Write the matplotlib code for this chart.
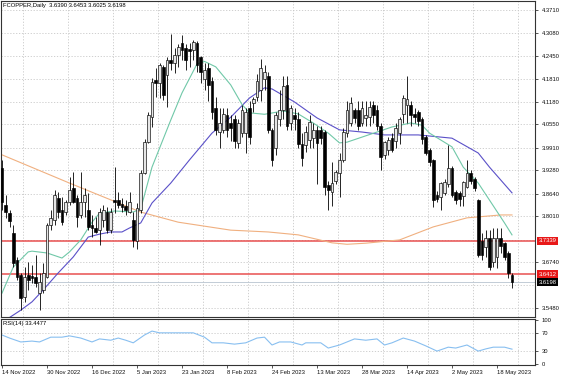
import matplotlib
matplotlib.use('Agg')
import matplotlib.pyplot as plt
from matplotlib.transforms import blended_transform_factory

# ---------------- data ----------------
opens = [3.935, 3.832, 3.810, 3.755, 3.680, 3.639, 3.578, 3.639, 3.637, 3.634,
         3.589, 3.598, 3.634, 3.777, 3.791, 3.852, 3.819, 3.813, 3.841, 3.880,
         3.852, 3.805, 3.841, 3.819, 3.777, 3.769, 3.763, 3.791, 3.813, 3.763,
         3.846, 3.846, 3.835, 3.830, 3.813, 3.791, 3.733, 3.819, 3.921, 4.006,
         4.075, 4.177, 4.169, 4.213, 4.191, 4.232, 4.224, 4.246, 4.279, 4.266,
         4.263, 4.260, 4.280, 4.240, 4.180, 4.210, 4.175, 4.100, 4.035, 4.040,
         4.080, 4.060, 4.070, 4.005, 4.030, 4.030, 4.100, 4.115, 4.130, 4.150,
         4.180, 4.190, 4.040, 3.990, 4.070, 4.095, 4.165, 4.060, 4.080, 4.070,
         4.000, 3.997, 4.012, 4.017, 4.040, 4.040, 4.034, 3.888, 3.868, 3.900,
         3.920, 3.957, 4.030, 4.060, 4.095, 4.095, 4.060, 4.073, 4.075, 4.109,
         4.095, 4.050, 3.970, 3.985, 4.017, 4.010, 4.030, 4.085, 4.110, 4.110,
         4.085, 4.090, 4.070, 4.020, 3.985, 3.957, 3.860, 3.855, 3.865, 3.890,
         3.935, 3.868, 3.865, 3.856, 3.882, 3.920, 3.905, 3.846, 3.733, 3.716,
         3.741, 3.675, 3.690, 3.741, 3.727, 3.700, 3.6390]
highs = [3.957, 3.860, 3.819, 3.777, 3.689, 3.645, 3.661, 3.675, 3.667, 3.694,
         3.645, 3.672, 3.783, 3.819, 3.874, 3.868, 3.855, 3.846, 3.910, 3.924,
         3.860, 3.924, 3.880, 3.866, 3.805, 3.799, 3.824, 3.832, 3.827, 3.824,
         3.937, 3.868, 3.852, 3.846, 3.868, 3.813, 3.838, 3.930, 4.014, 4.090,
         4.183, 4.210, 4.225, 4.219, 4.241, 4.305, 4.266, 4.277, 4.302, 4.277,
         4.279, 4.288, 4.285, 4.245, 4.225, 4.225, 4.185, 4.130, 4.100, 4.100,
         4.100, 4.080, 4.080, 4.070, 4.110, 4.100, 4.120, 4.130, 4.195, 4.235,
         4.220, 4.200, 4.045, 4.090, 4.150, 4.190, 4.190, 4.110, 4.100, 4.090,
         4.030, 4.050, 4.080, 4.060, 4.050, 4.050, 4.040, 3.900, 3.950, 3.930,
         3.975, 4.045, 4.120, 4.130, 4.100, 4.120, 4.120, 4.120, 4.120, 4.120,
         4.110, 4.060, 4.010, 4.020, 4.030, 4.060, 4.075, 4.135, 4.190, 4.120,
         4.100, 4.095, 4.075, 4.025, 3.990, 3.960, 3.870, 3.896, 3.905, 3.997,
         3.940, 3.875, 3.870, 3.900, 3.957, 3.930, 3.910, 3.850, 3.755, 3.763,
         3.763, 3.770, 3.770, 3.770, 3.730, 3.705, 3.6453]
lows = [3.819, 3.796, 3.771, 3.661, 3.625, 3.542, 3.564, 3.598, 3.617, 3.606,
        3.542, 3.589, 3.631, 3.763, 3.777, 3.796, 3.777, 3.805, 3.832, 3.838,
        3.771, 3.796, 3.799, 3.763, 3.744, 3.755, 3.722, 3.771, 3.755, 3.755,
        3.810, 3.824, 3.813, 3.805, 3.810, 3.716, 3.711, 3.810, 3.918, 4.003,
        4.048, 4.130, 4.128, 4.122, 4.103, 4.205, 4.197, 4.213, 4.233, 4.205,
        4.213, 4.233, 4.200, 4.170, 4.150, 4.120, 4.070, 4.025, 3.990, 4.030,
        4.020, 4.010, 3.990, 3.990, 4.020, 3.975, 4.000, 4.090, 4.120, 4.120,
        4.150, 4.030, 3.940, 3.970, 4.050, 4.070, 4.040, 4.040, 4.040, 3.990,
        3.940, 3.980, 3.990, 3.990, 3.890, 4.000, 3.860, 3.820, 3.830, 3.890,
        3.855, 3.950, 4.020, 4.050, 4.060, 4.040, 4.050, 4.050, 4.050, 4.060,
        4.040, 3.930, 3.960, 3.970, 3.980, 3.990, 4.000, 4.060, 4.060, 4.050,
        4.060, 4.050, 4.000, 3.970, 3.940, 3.827, 3.840, 3.820, 3.860, 3.882,
        3.855, 3.835, 3.830, 3.830, 3.880, 3.890, 3.870, 3.688, 3.680, 3.688,
        3.653, 3.660, 3.658, 3.700, 3.680, 3.630, 3.6025]
closes = [3.841, 3.813, 3.788, 3.672, 3.634, 3.575, 3.634, 3.625, 3.631, 3.617,
          3.620, 3.645, 3.777, 3.796, 3.860, 3.813, 3.786, 3.841, 3.874, 3.841,
          3.799, 3.841, 3.860, 3.771, 3.769, 3.758, 3.813, 3.819, 3.763, 3.813,
          3.841, 3.832, 3.827, 3.819, 3.841, 3.736, 3.824, 3.921, 4.006, 4.081,
          4.172, 4.169, 4.219, 4.136, 4.233, 4.224, 4.246, 4.268, 4.260, 4.233,
          4.257, 4.283, 4.220, 4.200, 4.205, 4.165, 4.090, 4.040, 4.060, 4.085,
          4.040, 4.045, 4.010, 4.060, 4.095, 4.090, 4.020, 4.125, 4.175, 4.210,
          4.200, 4.040, 3.957, 4.080, 4.095, 4.160, 4.050, 4.100, 4.070, 4.000,
          3.962, 4.034, 4.062, 4.040, 4.003, 4.017, 3.882, 3.874, 3.893, 3.924,
          3.957, 4.034, 4.095, 4.114, 4.073, 4.050, 4.100, 4.081, 4.103, 4.081,
          4.050, 3.965, 4.006, 4.012, 3.985, 4.045, 4.070, 4.128, 4.125, 4.080,
          4.075, 4.065, 4.015, 3.975, 3.950, 3.846, 3.850, 3.893, 3.895, 3.935,
          3.860, 3.846, 3.850, 3.896, 3.920, 3.900, 3.880, 3.694, 3.694, 3.741,
          3.661, 3.741, 3.741, 3.720, 3.688, 3.645, 3.6198]

# moving averages (bar index, value)
ma_fast_idx = [0, 3, 7, 8, 12, 16, 18, 21, 24, 26, 30, 35, 37, 40, 45, 48, 52, 54, 57,
               61, 64, 66, 70, 75, 79, 83, 87, 90, 92, 96, 100, 104, 109, 112, 114,
               120, 123, 127, 130, 134, 136]
ma_fast = [3.589, 3.661, 3.703, 3.705, 3.700, 3.686, 3.703, 3.736, 3.785, 3.810, 3.816,
           3.813, 3.822, 3.937, 4.067, 4.142, 4.222, 4.229, 4.214, 4.164, 4.110, 4.087,
           4.083, 4.092, 4.084, 4.059, 4.031, 4.004, 4.006, 4.020, 4.034, 4.048, 4.059,
           4.053, 4.031, 3.993, 3.937, 3.893, 3.846, 3.783, 3.750]
ma_mid_idx = [1, 5, 8, 11, 15, 19, 23, 26, 29, 32, 34, 37, 40, 45, 50, 56, 61, 66, 70,
              72, 78, 84, 90, 96, 102, 111, 120, 127, 130, 136]
ma_mid = [3.515, 3.542, 3.565, 3.598, 3.645, 3.689, 3.744, 3.752, 3.758, 3.758, 3.769,
          3.783, 3.838, 3.893, 3.957, 4.031, 4.075, 4.128, 4.156, 4.153, 4.117, 4.073,
          4.040, 4.034, 4.026, 4.026, 4.017, 3.976, 3.937, 3.866]
ma_slow_idx = [0, 18, 37, 47, 61, 71, 79, 88, 92, 97, 106, 115, 124, 133, 136]
ma_slow = [3.971, 3.893, 3.813, 3.785, 3.763, 3.758, 3.750, 3.728, 3.724, 3.727, 3.736,
           3.772, 3.797, 3.805, 3.805]

rsi_idx = [0, 2, 5, 8, 10, 13, 16, 18, 21, 24, 26, 29, 31, 33, 35, 38, 40, 42, 45, 48,
           51, 54, 56, 59, 62, 65, 68, 70, 72, 74, 77, 80, 81, 85, 87, 90, 94, 97, 100,
           102, 104, 107, 110, 113, 116, 119, 121, 124, 127, 129, 131, 134, 136]
rsi_vals = [66, 59, 50, 52, 50, 61, 61, 64, 59, 50, 57, 54, 59, 54, 48, 66, 75, 71, 71,
            71, 71, 61, 48, 48, 45, 48, 59, 61, 43, 50, 50, 43, 48, 48, 36, 43, 57, 54,
            57, 43, 48, 59, 52, 41, 29, 38, 36, 43, 29, 34, 38, 38, 33.4477]

date_labels = ['14 Nov 2022', '30 Nov 2022', '16 Dec 2022', '5 Jan 2023', '23 Jan 2023',
               '8 Feb 2023', '24 Feb 2023', '13 Mar 2023', '28 Mar 2023', '14 Apr 2023',
               '2 May 2023', '18 May 2023']
date_pos = [0, 12, 24, 36, 48, 60, 72, 84, 96, 108, 120, 132]
price_ticks = [4.3710, 4.3080, 4.2450, 4.1810, 4.1180, 4.0550, 3.9910, 3.9280,
               3.8640, 3.8010, 3.6740, 3.5480]
grid_levels = [4.3710, 4.3080, 4.2450, 4.1810, 4.1180, 4.0550, 3.9910, 3.9280,
               3.8640, 3.8010, 3.7370, 3.6740, 3.6110, 3.5480]
red_levels = [3.7339, 3.6412]
last_price = 3.6198
title_text = 'FCOPPER,Daily  3.6390 3.6453 3.6025 3.6198'
rsi_title = 'RSI(14) 33.4477'
rsi_levels = [30, 70]
rsi_ticks = [100, 70, 30, 0]

# ---------------- figure ----------------
W, H = 564, 376
FONT = ['Liberation Sans', 'DejaVu Sans']
FS = 4.2
plt.rcParams['font.family'] = FONT
fig = plt.figure(figsize=(W / 100, H / 100), dpi=100)
fig.patch.set_facecolor('white')

def frac(x0, y0, x1, y1):
    return [x0 / W, 1 - y1 / H, (x1 - x0) / W, (y1 - y0) / H]

ax = fig.add_axes(frac(0.5, 1, 535, 317))
axr = fig.add_axes(frac(0.5, 319, 535, 365), sharex=ax)

n = len(closes)
xs = list(range(n))
xlo, xhi = (0.5 - 2) / 3.75, (535 - 2) / 3.75
ax.set_xlim(xlo, xhi)

def price_at(y):
    return 4.3710 - (y - 10) / 362.1

ax.set_ylim(price_at(317), price_at(1))

grid_kw = dict(color='#c8c8c8', lw=0.6, ls=(0, (1.5, 2)), zorder=0)
vgrid = [5.5 + 12 * k for k in range(12)]
for v in vgrid:
    ax.axvline(v, **grid_kw)
    axr.axvline(v, **grid_kw)
for g in grid_levels:
    ax.axhline(g, **grid_kw)

# moving averages
ax.plot(ma_slow_idx, ma_slow, color='#f0b080', lw=0.8, zorder=2)
ax.plot(ma_mid_idx, ma_mid, color='#5a50c8', lw=0.8, zorder=2)
ax.plot(ma_fast_idx, ma_fast, color='#70c8a8', lw=0.8, zorder=2)

# horizontal lines
ax.axhline(last_price, color='#b8c4d0', lw=0.6, zorder=1)
for lv in red_levels:
    ax.axhline(lv, color='#e85050', lw=1.1, zorder=1)

# candles
up_face = '#e6e6e6'
for i in xs:
    o, h, l, c = opens[i], highs[i], lows[i], closes[i]
    ax.vlines(i, l, h, color='black', lw=0.6, zorder=3)
    bottom = min(o, c)
    height = max(abs(c - o), 0.002)
    face = up_face if c >= o else 'black'
    ax.bar(i, height, bottom=bottom, width=0.72, color=face, edgecolor='black',
           linewidth=0.45, zorder=4)

# right axis ticks
ax.yaxis.tick_right()
ax.set_yticks(price_ticks)
ax.set_yticklabels([f'{t:.4f}' for t in price_ticks])
ax.tick_params(axis='y', length=2.5, width=0.5, pad=2.5, labelsize=FS, colors='#111111')
ax.tick_params(axis='x', bottom=False, labelbottom=False)

tr = blended_transform_factory(ax.transAxes, ax.transData)
for lv in red_levels:
    ax.text(1.007, lv, f'{lv:.4f}', transform=tr, fontsize=FS, color='white',
            va='center', ha='left', clip_on=False, zorder=10,
            bbox=dict(boxstyle='square,pad=0.25', fc='#e81818', ec='none'))
ax.text(1.007, last_price, f'{last_price:.4f}', transform=tr, fontsize=FS, color='white',
        va='center', ha='left', clip_on=False, zorder=10,
        bbox=dict(boxstyle='square,pad=0.25', fc='black', ec='none'))

ax.text(3 / 535, 1 - 5 / 316, title_text, transform=ax.transAxes, fontsize=FS,
        va='center', ha='left', color='black')

# RSI panel
axr.set_ylim(-3.0, 102.8)
for lv in rsi_levels:
    axr.axhline(lv, **grid_kw)
axr.plot(rsi_idx, rsi_vals, color='#88bff0', lw=0.8, zorder=2)
axr.yaxis.tick_right()
axr.set_yticks(rsi_ticks)
axr.set_yticklabels([str(t) for t in rsi_ticks])
axr.tick_params(axis='y', length=2.5, width=0.5, pad=2.5, labelsize=FS, colors='#111111')
axr.set_xticks(date_pos)
axr.set_xticklabels(date_labels, ha='left')
axr.tick_params(axis='x', length=2, width=0.5, pad=1.5, labelsize=FS, colors='#111111')
axr.text(3 / 535, 1 - 5 / 46, rsi_title, transform=axr.transAxes, fontsize=FS,
         va='center', ha='left', color='black')

for a in (ax, axr):
    for s in a.spines.values():
        s.set_color('#333333')
        s.set_linewidth(0.8)
    a.set_facecolor('white')

fig.savefig('out.png', dpi=100, facecolor='white')
